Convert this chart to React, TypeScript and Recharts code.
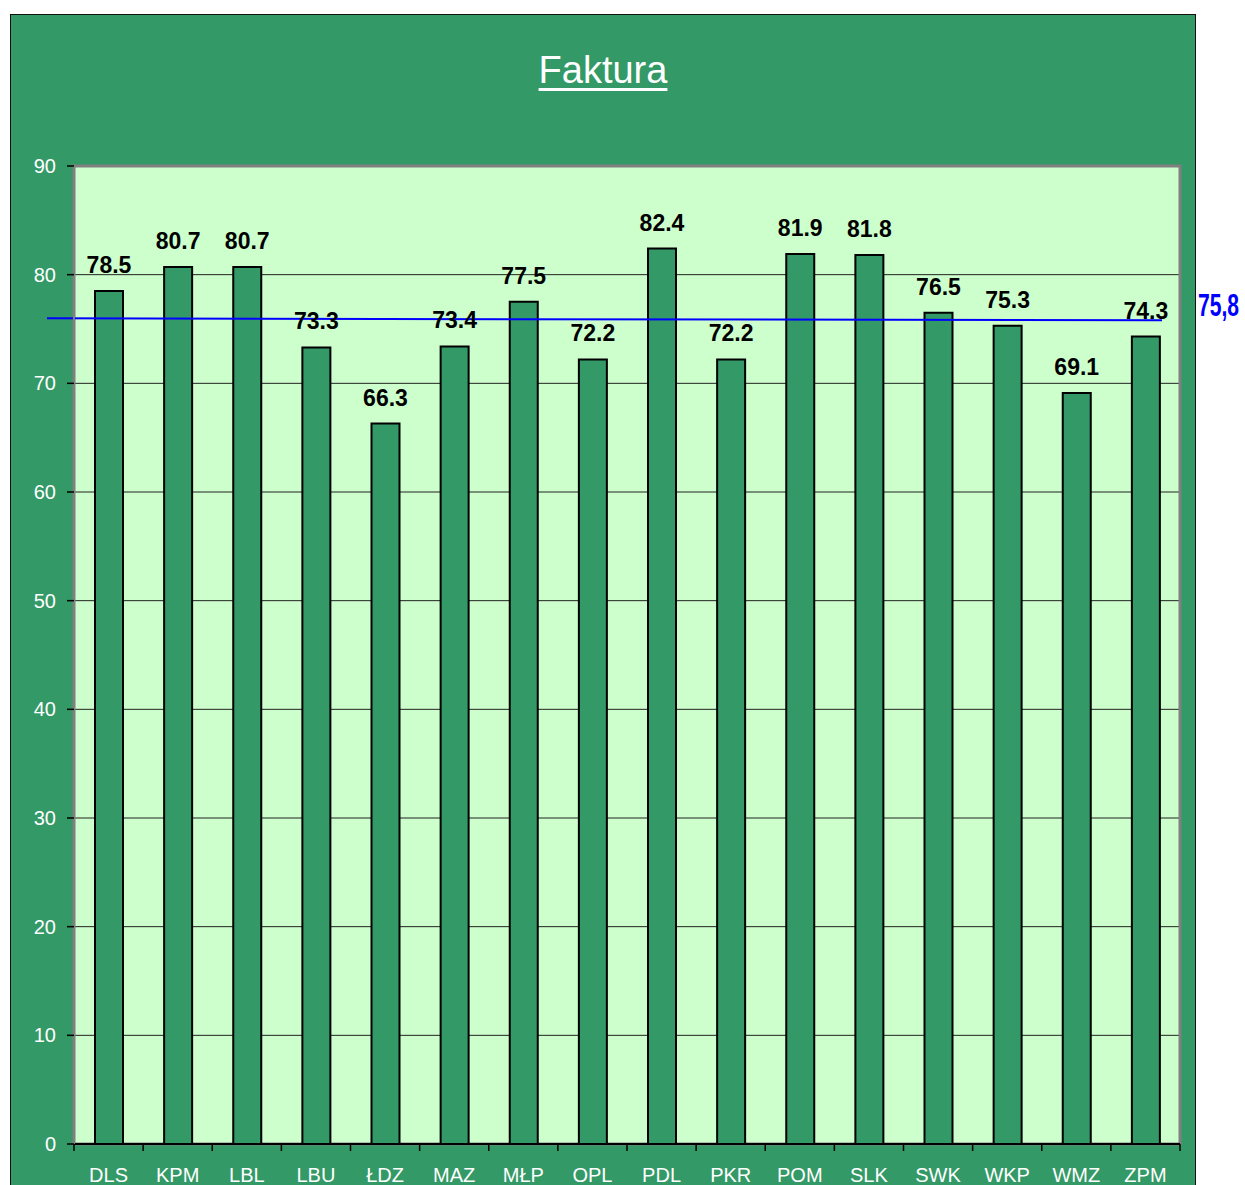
import React from 'react';
import {
  BarChart,
  Bar,
  XAxis,
  YAxis,
  CartesianGrid,
  ReferenceLine,
  ReferenceArea,
  LabelList,
} from 'recharts';

const categories = ['DLS', 'KPM', 'LBL', 'LBU', 'ŁDZ', 'MAZ', 'MŁP', 'OPL', 'PDL', 'PKR', 'POM', 'SLK', 'SWK', 'WKP', 'WMZ', 'ZPM'];
const values = [78.5, 80.7, 80.7, 73.3, 66.3, 73.4, 77.5, 72.2, 82.4, 72.2, 81.9, 81.8, 76.5, 75.3, 69.1, 74.3];
const yTicks = [0, 10, 20, 30, 40, 50, 60, 70, 80, 90];
const averageValue = 75.8;
const averageLabel = '75,8';
const title = 'Faktura';

const data = categories.map((c, i) => ({ name: c, value: values[i] }));

const CHART_W = 1245;
const CHART_H = 1185;
const MARGIN = { top: 166, right: 65, bottom: 0, left: 14 };
const YAXIS_W = 60;
const XAXIS_H = 41;
const PLOT_W = CHART_W - MARGIN.left - YAXIS_W - MARGIN.right;
const HALF_BAND = PLOT_W / categories.length / 2;

const FONT = "Arial, 'Liberation Sans', sans-serif";

const XTick = (props: any) => {
  const { x, y, payload, index } = props;
  const isLast = index === categories.length - 1;
  return (
    <g>
      <line x1={x - HALF_BAND} y1={y} x2={x - HALF_BAND} y2={y + 7} stroke="#000" strokeWidth={1.5} />
      {isLast && (
        <line x1={x + HALF_BAND} y1={y} x2={x + HALF_BAND} y2={y + 7} stroke="#000" strokeWidth={1.5} />
      )}
      <text x={x} y={y + 38} textAnchor="middle" fill="#fff" fontSize={20} fontFamily={FONT}>
        {payload.value}
      </text>
    </g>
  );
};

const AvgShape = (props: any) => {
  const { x1, y1, x2, y2 } = props;
  return (
    <g>
      <line x1={x1 - 27} y1={y1 - 2} x2={x2 - 18} y2={y2} stroke="#0000FF" strokeWidth={2} />
      <text
        transform={`translate(${x2 + 18}, ${y1 - 4}) scale(0.66, 1)`}
        x={0}
        y={0}
        fill="#0000FF"
        fontSize={32}
        fontWeight="bold"
        fontFamily={FONT}
      >
        {averageLabel}
      </text>
    </g>
  );
};

export default function App() {
  return (
    <div style={{ position: 'absolute', left: 0, top: 0, width: CHART_W, height: CHART_H, overflow: 'hidden', background: '#fff' }}>
      <div
        style={{
          position: 'absolute',
          left: 10,
          top: 14,
          width: 1186,
          height: 1200,
          boxSizing: 'border-box',
          border: '1.5px solid #111',
          background: '#339966',
        }}
      />
      <div
        style={{
          position: 'absolute',
          left: 10,
          top: 51,
          width: 1186,
          textAlign: 'center',
          color: '#fff',
          fontFamily: FONT,
          fontSize: 38,
          lineHeight: '38px',
          textDecoration: 'underline',
          textDecorationThickness: '3px',
          textUnderlineOffset: '5px',
        }}
      >
        {title}
      </div>
      <div style={{ position: 'absolute', left: 0, top: 0 }}>
        <BarChart width={CHART_W} height={CHART_H} data={data} margin={MARGIN} barSize={28}>
          <CartesianGrid vertical={false} fill="#CCFFCC" stroke="#222" strokeWidth={1} />
          <ReferenceArea y1={0} y2={90} fill="none" fillOpacity={0} stroke="#808080" strokeWidth={3} ifOverflow="visible" />
          <XAxis
            dataKey="name"
            height={XAXIS_H}
            interval={0}
            tickLine={false}
            tickSize={0}
            tickMargin={0}
            axisLine={{ stroke: '#000', strokeWidth: 2 }}
            tick={<XTick />}
          />
          <YAxis
            width={YAXIS_W}
            domain={[0, 90]}
            ticks={yTicks}
            interval={0}
            tickSize={7}
            tickMargin={11}
            axisLine={{ stroke: '#808080', strokeWidth: 2 }}
            tickLine={{ stroke: '#000', strokeWidth: 1.5 }}
            tick={{ fill: '#fff', fontSize: 20, fontFamily: FONT }}
          />
          <Bar dataKey="value" fill="#339966" stroke="#000" strokeWidth={2} isAnimationActive={false}>
            <LabelList
              dataKey="value"
              position="top"
              offset={18}
              formatter={(v: any) => Number(v).toFixed(1)}
              style={{ fill: '#000', fontSize: 23, fontWeight: 'bold', fontFamily: FONT }}
            />
          </Bar>
          <ReferenceLine y={averageValue} ifOverflow="visible" shape={<AvgShape />} />
        </BarChart>
      </div>
    </div>
  );
}
